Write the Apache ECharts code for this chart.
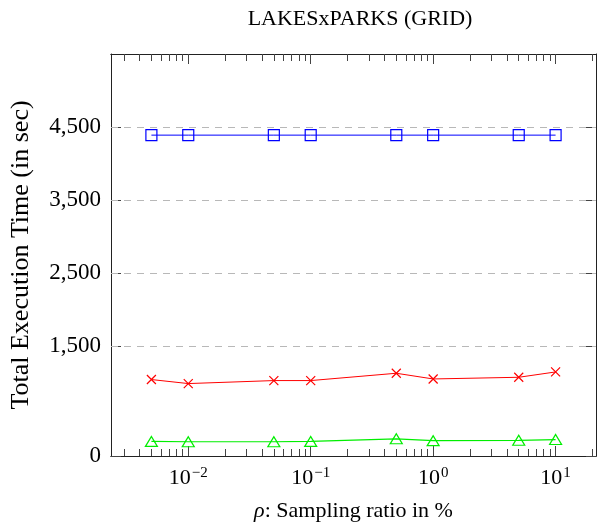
<!DOCTYPE html>
<html>
<head>
<meta charset="utf-8">
<script src="https://cdn.jsdelivr.net/npm/echarts@6/dist/echarts.min.js"></script>
<style>html,body{margin:0;padding:0;background:#fff}#c{width:598px;height:523px}</style>
</head>
<body>
<div id="c"></div>
<script>
const samplingRatios = [0.005, 0.01, 0.05, 0.1, 0.5, 1, 5, 10];
const gridSeries = [4390, 4390, 4390, 4390, 4390, 4390, 4390, 4390];
const redSeries = [1046, 991, 1032, 1032, 1132, 1054, 1077, 1150];
const greenSeries = [200, 195, 195, 200, 235, 210, 215, 225];
const yTicks = [0, 1500, 2500, 3500, 4500];
const xMajorTicks = [0.01, 0.1, 1, 10];
const xMinorTicks = [0.003,0.004,0.005,0.006,0.007,0.008,0.009,
  0.02,0.03,0.04,0.05,0.06,0.07,0.08,0.09,
  0.2,0.3,0.4,0.5,0.6,0.7,0.8,0.9,
  2,3,4,5,6,7,8,9,20];
const xMin = 0.002339, xMax = 21.38;
const yMin = 0, yMax = 5500;

const FONT = '"Liberation Serif", "DejaVu Serif", serif';
const FS = 22;
const axisCol = '#222';

function pairs(ys){ return samplingRatios.map((x,i)=>[x, ys[i]]); }
function xLabel(v){
  const e = Math.round(Math.log10(v));
  const s = String(e).replace('-', '−');
  return '{b|10}{s|' + s + '}';
}

function xAxisDef(pos, ticks, len, labels){
  return {
    type: 'log', position: pos, min: xMin, max: xMax, logBase: 10,
    axisLine: {show: true, onZero: false, lineStyle: {color: axisCol, width: 1}},
    axisTick: {show: true, inside: true, length: len, customValues: ticks, lineStyle: {color: '#444', width: 1}},
    minorTick: {show: false},
    splitLine: {show: false},
    axisLabel: labels ? {
      show: true, customValues: xMajorTicks, margin: 10, formatter: xLabel,
      rich: {
        b: {fontFamily: FONT, fontSize: FS, color: '#000'},
        s: {fontFamily: FONT, fontSize: 15, color: '#000', verticalAlign: 'bottom', padding: [0,0,10,1]}
      }
    } : {show: false}
  };
}

const chart = echarts.init(document.getElementById('c'), null, {renderer: 'canvas'});
chart.setOption({
  animation: false,
  title: {
    text: 'LAKESxPARKS (GRID)', left: 355, textAlign: 'center', top: 3,
    textStyle: {fontFamily: FONT, fontSize: FS, fontWeight: 'normal', color: '#000'}
  },
  grid: {left: 111, right: 2, top: 54, bottom: 67, containLabel: false, outerBoundsMode: 'none'},
  xAxis: [
    Object.assign(xAxisDef('bottom', xMajorTicks, 10, true), {
      name: '{i|ρ}: Sampling ratio in %', nameLocation: 'middle', nameGap: 44,
      nameTextStyle: {fontFamily: FONT, fontSize: FS, color: '#000',
        rich: {i: {fontFamily: FONT, fontSize: FS, fontStyle: 'italic', color: '#000'}}}
    }),
    xAxisDef('bottom', xMinorTicks, 7, false),
    xAxisDef('top', xMajorTicks, 10, false),
    xAxisDef('top', xMinorTicks, 7, false)
  ],
  yAxis: [
    {
      type: 'value', position: 'left', min: yMin, max: yMax,
      name: 'Total Execution Time (in sec)', nameLocation: 'middle', nameGap: 77,
      nameTextStyle: {fontFamily: FONT, fontSize: 26, color: '#000'},
      axisLine: {show: true, lineStyle: {color: axisCol}},
      axisTick: {show: true, inside: true, length: 10, customValues: yTicks, lineStyle: {color: '#444'}},
      axisLabel: {show: true, customValues: yTicks, margin: 10, fontFamily: FONT, fontSize: 23, color: '#000',
        formatter: v => v.toLocaleString('en-US')},
      splitLine: {show: false}
    },
    {
      type: 'value', position: 'right', min: yMin, max: yMax,
      axisLine: {show: true, lineStyle: {color: axisCol}},
      axisTick: {show: true, inside: true, length: 10, customValues: yTicks, lineStyle: {color: '#444'}},
      axisLabel: {show: false},
      splitLine: {show: false}
    }
  ],
  series: [
    {
      type: 'line', xAxisIndex: 0, yAxisIndex: 0, data: pairs(gridSeries),
      symbol: 'rect', symbolSize: 11, showAllSymbol: true,
      lineStyle: {color: '#0000ff', width: 1},
      itemStyle: {color: 'none', borderColor: '#0000ff', borderWidth: 1.2},
      markLine: {
        silent: true, symbol: 'none', label: {show: false},
        lineStyle: {color: '#b8b8b8', type: [7, 6], width: 1},
        data: yTicks.filter(v => v > 0).map(v => ({yAxis: v}))
      },
      z: 3
    },
    {
      type: 'line', xAxisIndex: 0, yAxisIndex: 0, data: pairs(redSeries),
      symbol: 'path://M0,0L10,10M10,0L0,10', symbolSize: 9, showAllSymbol: true,
      lineStyle: {color: '#ff0000', width: 1},
      itemStyle: {color: 'none', borderColor: '#ff0000', borderWidth: 1.2},
      z: 3
    },
    {
      type: 'line', xAxisIndex: 0, yAxisIndex: 0, data: pairs(greenSeries),
      symbol: 'triangle', symbolSize: [12, 10], showAllSymbol: true,
      lineStyle: {color: '#00ee00', width: 1.2},
      itemStyle: {color: 'none', borderColor: '#00ee00', borderWidth: 1.2},
      z: 3
    }
  ]
});
</script>
</body>
</html>
